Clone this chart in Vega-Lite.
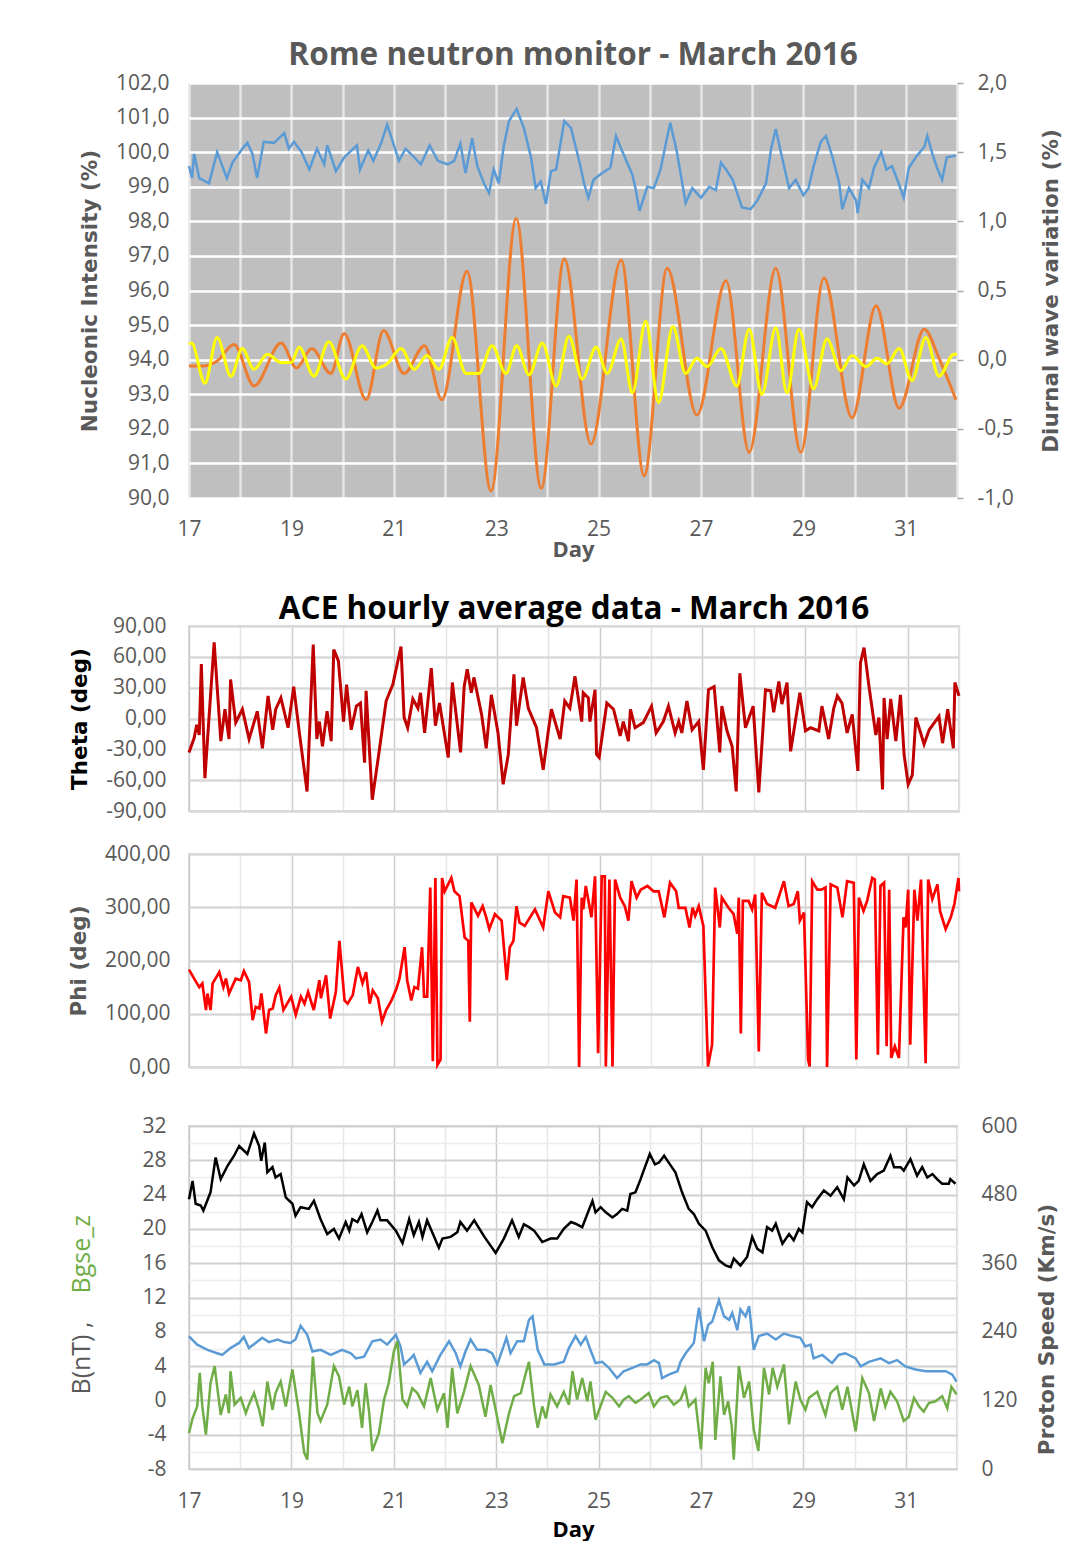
{
"$schema": "https://vega.github.io/schema/vega-lite/v6.json",
"padding": {"left": 66, "top": 39, "right": 0, "bottom": 0},
"background": "#ffffff",
"spacing": 20,
"config": {
  "view": {"stroke": null},
  "font": "Open Sans",
  "axis": {"labelFont": "Open Sans", "labelFontSize": 21, "labelColor": "#595959", "titleFont": "DejaVu Sans", "titleFontSize": 21.5, "titleFontWeight": "bold", "titleColor": "#595959", "domain": false, "ticks": false, "labelFlush": false},
  "title": {"font": "Open Sans", "fontWeight": "bold", "fontSize": 31.5, "anchor": "middle"}
},
"datasets": {
"nm": [{"d":17.0,"v":99.6},{"d":17.06,"v":99.25},{"d":17.1,"v":99.95},{"d":17.2,"v":99.25},{"d":17.39,"v":99.1},{"d":17.55,"v":100.0},{"d":17.74,"v":99.25},{"d":17.85,"v":99.7},{"d":18.04,"v":100.1},{"d":18.14,"v":100.27},{"d":18.24,"v":99.95},{"d":18.33,"v":99.25},{"d":18.46,"v":100.3},{"d":18.66,"v":100.27},{"d":18.86,"v":100.55},{"d":18.95,"v":100.1},{"d":19.05,"v":100.3},{"d":19.2,"v":100.0},{"d":19.35,"v":99.5},{"d":19.5,"v":100.1},{"d":19.64,"v":99.65},{"d":19.7,"v":100.2},{"d":19.87,"v":99.45},{"d":20.03,"v":99.85},{"d":20.28,"v":100.2},{"d":20.34,"v":99.5},{"d":20.5,"v":100.05},{"d":20.6,"v":99.75},{"d":20.75,"v":100.25},{"d":20.87,"v":100.8},{"d":20.97,"v":100.35},{"d":21.1,"v":99.75},{"d":21.23,"v":100.1},{"d":21.4,"v":99.85},{"d":21.53,"v":99.65},{"d":21.7,"v":100.2},{"d":21.86,"v":99.75},{"d":22.05,"v":99.65},{"d":22.18,"v":99.75},{"d":22.3,"v":100.25},{"d":22.4,"v":99.4},{"d":22.53,"v":100.4},{"d":22.63,"v":99.6},{"d":22.76,"v":99.1},{"d":22.86,"v":98.82},{"d":22.95,"v":99.5},{"d":23.05,"v":99.1},{"d":23.15,"v":100.2},{"d":23.25,"v":100.9},{"d":23.4,"v":101.25},{"d":23.54,"v":100.7},{"d":23.68,"v":99.85},{"d":23.77,"v":98.96},{"d":23.87,"v":99.15},{"d":23.97,"v":98.5},{"d":24.07,"v":99.45},{"d":24.17,"v":99.5},{"d":24.33,"v":100.9},{"d":24.46,"v":100.7},{"d":24.62,"v":99.75},{"d":24.72,"v":99.08},{"d":24.8,"v":98.68},{"d":24.9,"v":99.2},{"d":25.07,"v":99.4},{"d":25.23,"v":99.55},{"d":25.34,"v":100.47},{"d":25.47,"v":100.0},{"d":25.66,"v":99.35},{"d":25.72,"v":98.96},{"d":25.8,"v":98.3},{"d":25.95,"v":99.0},{"d":26.08,"v":98.96},{"d":26.21,"v":99.5},{"d":26.32,"v":100.3},{"d":26.4,"v":100.85},{"d":26.53,"v":100.0},{"d":26.7,"v":98.53},{"d":26.83,"v":98.96},{"d":27.0,"v":98.68},{"d":27.16,"v":99.0},{"d":27.29,"v":98.9},{"d":27.39,"v":99.7},{"d":27.49,"v":99.5},{"d":27.62,"v":99.2},{"d":27.8,"v":98.4},{"d":27.97,"v":98.35},{"d":28.1,"v":98.6},{"d":28.27,"v":99.1},{"d":28.37,"v":100.1},{"d":28.46,"v":100.67},{"d":28.56,"v":100.0},{"d":28.72,"v":98.96},{"d":28.85,"v":99.2},{"d":29.0,"v":98.75},{"d":29.1,"v":98.96},{"d":29.2,"v":99.6},{"d":29.34,"v":100.3},{"d":29.44,"v":100.47},{"d":29.57,"v":99.85},{"d":29.7,"v":99.1},{"d":29.76,"v":98.35},{"d":29.89,"v":98.96},{"d":30.03,"v":98.6},{"d":30.06,"v":98.24},{"d":30.15,"v":99.2},{"d":30.28,"v":98.96},{"d":30.38,"v":99.55},{"d":30.52,"v":100.0},{"d":30.62,"v":99.5},{"d":30.73,"v":99.6},{"d":30.86,"v":99.1},{"d":30.96,"v":98.68},{"d":31.06,"v":99.55},{"d":31.22,"v":99.9},{"d":31.36,"v":100.15},{"d":31.42,"v":100.47},{"d":31.52,"v":99.95},{"d":31.61,"v":99.55},{"d":31.71,"v":99.2},{"d":31.8,"v":99.85},{"d":31.98,"v":99.9}],
"dw": [{"d":17.0,"v":-0.045},{"d":17.3,"v":-0.045},{"d":17.55,"v":-0.01},{"d":17.88,"v":0.11},{"d":18.27,"v":-0.19},{"d":18.8,"v":0.12},{"d":19.1,"v":-0.06},{"d":19.4,"v":0.08},{"d":19.77,"v":-0.1},{"d":20.03,"v":0.19},{"d":20.46,"v":-0.29},{"d":20.8,"v":0.21},{"d":21.2,"v":-0.1},{"d":21.6,"v":0.1},{"d":21.94,"v":-0.29},{"d":22.43,"v":0.64},{"d":22.9,"v":-0.95},{"d":23.39,"v":1.02},{"d":23.88,"v":-0.93},{"d":24.33,"v":0.73},{"d":24.85,"v":-0.61},{"d":25.44,"v":0.72},{"d":25.89,"v":-0.84},{"d":26.34,"v":0.66},{"d":26.92,"v":-0.4},{"d":27.49,"v":0.57},{"d":27.94,"v":-0.67},{"d":28.46,"v":0.66},{"d":28.95,"v":-0.67},{"d":29.4,"v":0.59},{"d":29.95,"v":-0.42},{"d":30.42,"v":0.39},{"d":30.87,"v":-0.35},{"d":31.36,"v":0.22},{"d":31.65,"v":0.01},{"d":31.98,"v":-0.29}],
"sd": [{"d":17.0,"v":0.11},{"d":17.05,"v":0.12},{"d":17.31,"v":-0.17},{"d":17.55,"v":0.16},{"d":17.82,"v":-0.12},{"d":18.04,"v":0.08},{"d":18.27,"v":-0.07},{"d":18.53,"v":0.04},{"d":18.8,"v":-0.02},{"d":19.0,"v":-0.02},{"d":19.15,"v":0.09},{"d":19.44,"v":-0.12},{"d":19.73,"v":0.13},{"d":20.06,"v":-0.14},{"d":20.38,"v":0.1},{"d":20.65,"v":-0.06},{"d":20.87,"v":-0.03},{"d":21.14,"v":0.08},{"d":21.4,"v":-0.07},{"d":21.65,"v":0.03},{"d":21.88,"v":-0.07},{"d":22.14,"v":0.16},{"d":22.41,"v":-0.1},{"d":22.66,"v":-0.1},{"d":22.92,"v":0.1},{"d":23.19,"v":-0.1},{"d":23.4,"v":0.1},{"d":23.64,"v":-0.11},{"d":23.9,"v":0.12},{"d":24.17,"v":-0.19},{"d":24.42,"v":0.17},{"d":24.68,"v":-0.14},{"d":24.95,"v":0.09},{"d":25.17,"v":-0.1},{"d":25.44,"v":0.15},{"d":25.66,"v":-0.24},{"d":25.92,"v":0.28},{"d":26.17,"v":-0.31},{"d":26.45,"v":0.24},{"d":26.7,"v":-0.1},{"d":26.92,"v":0.01},{"d":27.12,"v":-0.05},{"d":27.39,"v":0.08},{"d":27.7,"v":-0.19},{"d":27.94,"v":0.22},{"d":28.19,"v":-0.25},{"d":28.46,"v":0.23},{"d":28.68,"v":-0.24},{"d":28.91,"v":0.22},{"d":29.2,"v":-0.21},{"d":29.46,"v":0.15},{"d":29.73,"v":-0.08},{"d":29.95,"v":0.03},{"d":30.22,"v":-0.05},{"d":30.44,"v":0.01},{"d":30.63,"v":-0.03},{"d":30.87,"v":0.08},{"d":31.12,"v":-0.15},{"d":31.39,"v":0.16},{"d":31.65,"v":-0.12},{"d":31.94,"v":0.04},{"d":32.0,"v":0.04}],
"th": [{"d":17.0,"v":-33},{"d":17.1,"v":-19},{"d":17.15,"v":-6},{"d":17.2,"v":-16},{"d":17.24,"v":53},{"d":17.31,"v":-58},{"d":17.49,"v":74},{"d":17.62,"v":-22},{"d":17.7,"v":9},{"d":17.78,"v":-20},{"d":17.81,"v":38},{"d":17.91,"v":-4},{"d":18.04,"v":9},{"d":18.17,"v":-20},{"d":18.33,"v":7},{"d":18.43,"v":-29},{"d":18.54,"v":22},{"d":18.63,"v":-11},{"d":18.69,"v":9},{"d":18.79,"v":20},{"d":18.93,"v":-9},{"d":19.04,"v":31},{"d":19.15,"v":-14},{"d":19.3,"v":-71},{"d":19.42,"v":72},{"d":19.49,"v":-20},{"d":19.54,"v":-3},{"d":19.6,"v":-27},{"d":19.69,"v":7},{"d":19.77,"v":-22},{"d":19.82,"v":67},{"d":19.91,"v":56},{"d":20.01,"v":-3},{"d":20.07,"v":33},{"d":20.16,"v":-11},{"d":20.26,"v":12},{"d":20.34,"v":15},{"d":20.42,"v":-43},{"d":20.45,"v":27},{"d":20.57,"v":-79},{"d":20.69,"v":-37},{"d":20.84,"v":17},{"d":20.97,"v":33},{"d":21.13,"v":70},{"d":21.19,"v":1},{"d":21.26,"v":-9},{"d":21.36,"v":19},{"d":21.46,"v":10},{"d":21.51,"v":25},{"d":21.59,"v":-14},{"d":21.72,"v":49},{"d":21.8,"v":-7},{"d":21.88,"v":15},{"d":22.05,"v":-38},{"d":22.13,"v":35},{"d":22.29,"v":-33},{"d":22.36,"v":31},{"d":22.42,"v":48},{"d":22.5,"v":25},{"d":22.55,"v":40},{"d":22.7,"v":4},{"d":22.79,"v":-29},{"d":22.89,"v":23},{"d":23.02,"v":-14},{"d":23.12,"v":-64},{"d":23.22,"v":-35},{"d":23.33,"v":43},{"d":23.38,"v":-7},{"d":23.51,"v":40},{"d":23.61,"v":10},{"d":23.77,"v":-9},{"d":23.9,"v":-50},{"d":24.0,"v":-12},{"d":24.06,"v":9},{"d":24.23,"v":-20},{"d":24.32,"v":17},{"d":24.42,"v":10},{"d":24.52,"v":41},{"d":24.65,"v":-3},{"d":24.68,"v":25},{"d":24.78,"v":20},{"d":24.81,"v":-3},{"d":24.91,"v":28},{"d":24.94,"v":-35},{"d":24.99,"v":-38},{"d":25.14,"v":15},{"d":25.27,"v":9},{"d":25.4,"v":-17},{"d":25.46,"v":-3},{"d":25.56,"v":-22},{"d":25.6,"v":9},{"d":25.69,"v":-9},{"d":25.85,"v":-4},{"d":26.01,"v":12},{"d":26.1,"v":-14},{"d":26.24,"v":-3},{"d":26.34,"v":12},{"d":26.47,"v":-14},{"d":26.54,"v":-3},{"d":26.6,"v":-14},{"d":26.7,"v":17},{"d":26.8,"v":-11},{"d":26.93,"v":-3},{"d":27.02,"v":-50},{"d":27.12,"v":28},{"d":27.23,"v":31},{"d":27.34,"v":-33},{"d":27.38,"v":12},{"d":27.48,"v":-12},{"d":27.58,"v":-27},{"d":27.66,"v":-71},{"d":27.73,"v":44},{"d":27.84,"v":-9},{"d":27.99,"v":12},{"d":28.1,"v":-72},{"d":28.23,"v":28},{"d":28.33,"v":27},{"d":28.39,"v":6},{"d":28.49,"v":36},{"d":28.55,"v":14},{"d":28.65,"v":35},{"d":28.72,"v":-32},{"d":28.9,"v":25},{"d":29.01,"v":-12},{"d":29.11,"v":-9},{"d":29.27,"v":-12},{"d":29.33,"v":12},{"d":29.46,"v":-20},{"d":29.56,"v":10},{"d":29.63,"v":22},{"d":29.72,"v":15},{"d":29.82,"v":-14},{"d":29.92,"v":4},{"d":30.03,"v":-51},{"d":30.08,"v":54},{"d":30.15,"v":69},{"d":30.25,"v":30},{"d":30.38,"v":-16},{"d":30.44,"v":1},{"d":30.51,"v":-69},{"d":30.54,"v":20},{"d":30.6,"v":-20},{"d":30.67,"v":19},{"d":30.77,"v":-22},{"d":30.86,"v":23},{"d":30.93,"v":-35},{"d":31.01,"v":-64},{"d":31.09,"v":-55},{"d":31.16,"v":1},{"d":31.32,"v":-25},{"d":31.42,"v":-11},{"d":31.61,"v":2},{"d":31.68,"v":-24},{"d":31.78,"v":9},{"d":31.89,"v":-29},{"d":31.92,"v":35},{"d":32.0,"v":22}],
"ph": [{"d":17.0,"v":183},{"d":17.1,"v":166},{"d":17.2,"v":150},{"d":17.26,"v":157},{"d":17.33,"v":107},{"d":17.36,"v":138},{"d":17.42,"v":107},{"d":17.46,"v":157},{"d":17.59,"v":178},{"d":17.67,"v":150},{"d":17.72,"v":166},{"d":17.78,"v":138},{"d":17.91,"v":166},{"d":18.01,"v":163},{"d":18.07,"v":180},{"d":18.17,"v":160},{"d":18.24,"v":88},{"d":18.3,"v":113},{"d":18.37,"v":110},{"d":18.41,"v":138},{"d":18.5,"v":63},{"d":18.56,"v":107},{"d":18.63,"v":110},{"d":18.69,"v":135},{"d":18.76,"v":149},{"d":18.84,"v":107},{"d":18.99,"v":132},{"d":19.08,"v":98},{"d":19.18,"v":132},{"d":19.25,"v":119},{"d":19.32,"v":141},{"d":19.43,"v":107},{"d":19.54,"v":163},{"d":19.57,"v":129},{"d":19.67,"v":172},{"d":19.75,"v":91},{"d":19.86,"v":141},{"d":19.93,"v":237},{"d":20.03,"v":125},{"d":20.09,"v":119},{"d":20.19,"v":135},{"d":20.29,"v":188},{"d":20.38,"v":157},{"d":20.45,"v":178},{"d":20.52,"v":119},{"d":20.58,"v":144},{"d":20.68,"v":129},{"d":20.76,"v":85},{"d":20.84,"v":107},{"d":20.94,"v":124},{"d":21.04,"v":147},{"d":21.1,"v":166},{"d":21.2,"v":225},{"d":21.25,"v":163},{"d":21.33,"v":125},{"d":21.39,"v":150},{"d":21.46,"v":147},{"d":21.54,"v":225},{"d":21.58,"v":132},{"d":21.64,"v":132},{"d":21.7,"v":337},{"d":21.75,"v":11},{"d":21.8,"v":355},{"d":21.84,"v":4},{"d":21.9,"v":14},{"d":21.93,"v":355},{"d":21.98,"v":330},{"d":22.11,"v":355},{"d":22.17,"v":330},{"d":22.27,"v":321},{"d":22.37,"v":243},{"d":22.44,"v":237},{"d":22.47,"v":85},{"d":22.5,"v":309},{"d":22.63,"v":284},{"d":22.72,"v":302},{"d":22.79,"v":281},{"d":22.85,"v":259},{"d":22.96,"v":287},{"d":23.09,"v":275},{"d":23.19,"v":163},{"d":23.25,"v":225},{"d":23.32,"v":237},{"d":23.38,"v":302},{"d":23.44,"v":271},{"d":23.54,"v":265},{"d":23.74,"v":296},{"d":23.9,"v":262},{"d":24.0,"v":330},{"d":24.13,"v":290},{"d":24.23,"v":281},{"d":24.29,"v":321},{"d":24.42,"v":318},{"d":24.49,"v":275},{"d":24.55,"v":352},{"d":24.6,"v":0},{"d":24.65,"v":318},{"d":24.68,"v":296},{"d":24.73,"v":340},{"d":24.84,"v":281},{"d":24.91,"v":358},{"d":24.97,"v":26},{"d":25.04,"v":358},{"d":25.1,"v":358},{"d":25.12,"v":1},{"d":25.19,"v":352},{"d":25.25,"v":1},{"d":25.3,"v":352},{"d":25.4,"v":318},{"d":25.49,"v":302},{"d":25.56,"v":275},{"d":25.62,"v":349},{"d":25.72,"v":318},{"d":25.8,"v":333},{"d":25.93,"v":340},{"d":26.05,"v":330},{"d":26.15,"v":330},{"d":26.26,"v":281},{"d":26.37,"v":346},{"d":26.49,"v":330},{"d":26.54,"v":299},{"d":26.67,"v":299},{"d":26.75,"v":262},{"d":26.81,"v":299},{"d":26.86,"v":284},{"d":26.93,"v":302},{"d":27.02,"v":265},{"d":27.11,"v":1},{"d":27.19,"v":42},{"d":27.25,"v":337},{"d":27.34,"v":262},{"d":27.38,"v":318},{"d":27.51,"v":299},{"d":27.61,"v":287},{"d":27.68,"v":250},{"d":27.71,"v":318},{"d":27.75,"v":63},{"d":27.79,"v":312},{"d":27.9,"v":312},{"d":27.97,"v":296},{"d":28.03,"v":324},{"d":28.1,"v":29},{"d":28.16,"v":327},{"d":28.26,"v":306},{"d":28.42,"v":299},{"d":28.59,"v":349},{"d":28.68,"v":302},{"d":28.78,"v":306},{"d":28.86,"v":330},{"d":28.9,"v":275},{"d":28.98,"v":290},{"d":29.06,"v":14},{"d":29.09,"v":1},{"d":29.14,"v":349},{"d":29.24,"v":333},{"d":29.32,"v":333},{"d":29.4,"v":337},{"d":29.43,"v":0},{"d":29.5,"v":343},{"d":29.63,"v":337},{"d":29.73,"v":281},{"d":29.82,"v":349},{"d":29.95,"v":346},{"d":30.0,"v":14},{"d":30.05,"v":318},{"d":30.14,"v":293},{"d":30.21,"v":312},{"d":30.31,"v":355},{"d":30.36,"v":352},{"d":30.42,"v":23},{"d":30.47,"v":340},{"d":30.54,"v":346},{"d":30.59,"v":39},{"d":30.64,"v":333},{"d":30.68,"v":17},{"d":30.75,"v":39},{"d":30.83,"v":17},{"d":30.92,"v":281},{"d":30.96,"v":262},{"d":31.01,"v":333},{"d":31.05,"v":42},{"d":31.13,"v":333},{"d":31.19,"v":275},{"d":31.26,"v":352},{"d":31.35,"v":7},{"d":31.4,"v":352},{"d":31.48,"v":315},{"d":31.58,"v":343},{"d":31.63,"v":293},{"d":31.74,"v":259},{"d":31.84,"v":281},{"d":31.91,"v":306},{"d":31.99,"v":355},{"d":32.0,"v":330}],
"bm": [{"d":17.0,"v":7.46},{"d":17.16,"v":6.5},{"d":17.36,"v":5.9},{"d":17.55,"v":5.5},{"d":17.65,"v":5.3},{"d":17.81,"v":6.1},{"d":17.98,"v":6.7},{"d":18.07,"v":7.4},{"d":18.17,"v":6.1},{"d":18.3,"v":6.7},{"d":18.43,"v":7.3},{"d":18.56,"v":6.8},{"d":18.73,"v":7.1},{"d":18.86,"v":6.8},{"d":18.98,"v":6.7},{"d":19.08,"v":7.1},{"d":19.18,"v":8.7},{"d":19.31,"v":7.65},{"d":19.41,"v":5.7},{"d":19.57,"v":5.9},{"d":19.77,"v":5.3},{"d":19.99,"v":5.9},{"d":20.16,"v":5.5},{"d":20.26,"v":4.9},{"d":20.42,"v":5.1},{"d":20.58,"v":6.9},{"d":20.74,"v":7.1},{"d":20.87,"v":6.5},{"d":21.04,"v":7.65},{"d":21.13,"v":6.3},{"d":21.2,"v":4.2},{"d":21.33,"v":4.9},{"d":21.39,"v":5.3},{"d":21.52,"v":3.2},{"d":21.65,"v":4.5},{"d":21.75,"v":3.4},{"d":21.91,"v":5.3},{"d":22.08,"v":6.9},{"d":22.21,"v":5.5},{"d":22.3,"v":3.96},{"d":22.4,"v":5.7},{"d":22.5,"v":7.1},{"d":22.63,"v":5.9},{"d":22.79,"v":5.9},{"d":22.92,"v":5.5},{"d":23.02,"v":4.2},{"d":23.12,"v":5.9},{"d":23.2,"v":7.3},{"d":23.28,"v":5.5},{"d":23.41,"v":6.9},{"d":23.54,"v":6.9},{"d":23.64,"v":9.4},{"d":23.71,"v":9.8},{"d":23.81,"v":5.9},{"d":23.94,"v":4.2},{"d":24.13,"v":4.2},{"d":24.32,"v":4.5},{"d":24.42,"v":6.1},{"d":24.55,"v":7.5},{"d":24.65,"v":6.5},{"d":24.75,"v":7.4},{"d":24.84,"v":5.9},{"d":24.94,"v":4.35},{"d":25.07,"v":4.5},{"d":25.2,"v":3.8},{"d":25.36,"v":2.6},{"d":25.49,"v":3.4},{"d":25.66,"v":3.8},{"d":25.82,"v":4.2},{"d":25.95,"v":4.2},{"d":26.08,"v":4.7},{"d":26.18,"v":4.35},{"d":26.24,"v":2.6},{"d":26.37,"v":3.0},{"d":26.54,"v":3.4},{"d":26.6,"v":4.5},{"d":26.7,"v":5.5},{"d":26.86,"v":6.7},{"d":26.96,"v":10.8},{"d":27.06,"v":6.9},{"d":27.14,"v":8.8},{"d":27.22,"v":9.2},{"d":27.35,"v":11.7},{"d":27.45,"v":9.8},{"d":27.55,"v":9.4},{"d":27.61,"v":10.2},{"d":27.71,"v":8.2},{"d":27.77,"v":10.6},{"d":27.87,"v":9.8},{"d":27.94,"v":11.0},{"d":28.03,"v":5.9},{"d":28.13,"v":7.5},{"d":28.29,"v":7.8},{"d":28.46,"v":7.1},{"d":28.62,"v":7.8},{"d":28.78,"v":7.5},{"d":28.94,"v":7.3},{"d":29.04,"v":6.3},{"d":29.14,"v":6.5},{"d":29.2,"v":4.9},{"d":29.37,"v":5.3},{"d":29.56,"v":4.35},{"d":29.69,"v":5.3},{"d":29.82,"v":5.5},{"d":30.02,"v":4.9},{"d":30.12,"v":3.96},{"d":30.28,"v":4.5},{"d":30.51,"v":4.9},{"d":30.67,"v":4.35},{"d":30.83,"v":4.7},{"d":30.99,"v":3.96},{"d":31.19,"v":3.6},{"d":31.39,"v":3.4},{"d":31.58,"v":3.4},{"d":31.78,"v":3.4},{"d":31.91,"v":3.0},{"d":31.99,"v":2.2}],
"bz": [{"d":17.0,"v":-3.8},{"d":17.07,"v":-2.1},{"d":17.16,"v":-0.7},{"d":17.21,"v":3.2},{"d":17.26,"v":-0.7},{"d":17.33,"v":-4.0},{"d":17.42,"v":2.0},{"d":17.5,"v":4.0},{"d":17.62,"v":-1.7},{"d":17.72,"v":0.7},{"d":17.78,"v":-1.5},{"d":17.81,"v":3.4},{"d":17.89,"v":-0.5},{"d":18.01,"v":0.3},{"d":18.11,"v":-1.5},{"d":18.17,"v":-0.5},{"d":18.27,"v":0.85},{"d":18.37,"v":-1.1},{"d":18.44,"v":-3.0},{"d":18.53,"v":2.2},{"d":18.63,"v":-1.1},{"d":18.69,"v":0.85},{"d":18.79,"v":2.2},{"d":18.89,"v":-0.7},{"d":19.02,"v":3.6},{"d":19.15,"v":-1.5},{"d":19.25,"v":-6.1},{"d":19.31,"v":-6.9},{"d":19.42,"v":5.1},{"d":19.51,"v":-1.5},{"d":19.57,"v":-2.4},{"d":19.7,"v":-0.5},{"d":19.83,"v":4.0},{"d":19.93,"v":2.8},{"d":20.03,"v":-0.5},{"d":20.13,"v":1.6},{"d":20.19,"v":-0.7},{"d":20.29,"v":1.2},{"d":20.38,"v":-3.2},{"d":20.45,"v":2.0},{"d":20.52,"v":-1.5},{"d":20.58,"v":-5.9},{"d":20.71,"v":-3.8},{"d":20.81,"v":0.1},{"d":20.9,"v":2.0},{"d":21.0,"v":5.7},{"d":21.07,"v":6.9},{"d":21.17,"v":0.1},{"d":21.26,"v":-0.7},{"d":21.36,"v":1.4},{"d":21.46,"v":0.85},{"d":21.59,"v":-0.7},{"d":21.72,"v":2.6},{"d":21.85,"v":-1.1},{"d":21.98,"v":0.85},{"d":22.05,"v":-3.2},{"d":22.14,"v":3.8},{"d":22.24,"v":-1.5},{"d":22.37,"v":1.0},{"d":22.5,"v":4.0},{"d":22.66,"v":1.8},{"d":22.79,"v":-1.9},{"d":22.89,"v":1.8},{"d":22.99,"v":-1.1},{"d":23.12,"v":-5.0},{"d":23.25,"v":-1.5},{"d":23.35,"v":0.5},{"d":23.48,"v":0.85},{"d":23.57,"v":3.0},{"d":23.64,"v":4.5},{"d":23.74,"v":-0.7},{"d":23.81,"v":-3.2},{"d":23.9,"v":-0.7},{"d":23.97,"v":-2.1},{"d":24.06,"v":0.7},{"d":24.19,"v":-0.7},{"d":24.32,"v":1.0},{"d":24.42,"v":-0.5},{"d":24.49,"v":3.4},{"d":24.58,"v":0.1},{"d":24.68,"v":2.6},{"d":24.78,"v":-0.1},{"d":24.84,"v":2.2},{"d":24.94,"v":-2.25},{"d":25.14,"v":1.0},{"d":25.27,"v":0.3},{"d":25.4,"v":-0.7},{"d":25.49,"v":0.1},{"d":25.59,"v":0.5},{"d":25.72,"v":-0.3},{"d":25.82,"v":0.1},{"d":25.98,"v":0.85},{"d":26.08,"v":-0.7},{"d":26.21,"v":0.3},{"d":26.34,"v":0.5},{"d":26.47,"v":-0.5},{"d":26.6,"v":0.1},{"d":26.69,"v":1.4},{"d":26.76,"v":-0.7},{"d":26.89,"v":0.1},{"d":27.0,"v":-5.7},{"d":27.09,"v":3.8},{"d":27.15,"v":2.0},{"d":27.23,"v":4.5},{"d":27.28,"v":-4.6},{"d":27.38,"v":2.8},{"d":27.45,"v":-1.7},{"d":27.53,"v":-0.1},{"d":27.6,"v":-3.0},{"d":27.64,"v":-6.9},{"d":27.74,"v":4.0},{"d":27.84,"v":0.3},{"d":27.94,"v":2.2},{"d":28.03,"v":-3.4},{"d":28.12,"v":-5.9},{"d":28.23,"v":3.8},{"d":28.33,"v":0.7},{"d":28.4,"v":3.8},{"d":28.49,"v":1.6},{"d":28.62,"v":4.2},{"d":28.72,"v":-2.8},{"d":28.85,"v":2.2},{"d":28.94,"v":0.1},{"d":29.04,"v":-1.1},{"d":29.11,"v":0.3},{"d":29.27,"v":1.0},{"d":29.43,"v":-1.7},{"d":29.53,"v":0.85},{"d":29.66,"v":1.6},{"d":29.76,"v":-1.1},{"d":29.86,"v":1.6},{"d":30.02,"v":-3.6},{"d":30.15,"v":2.6},{"d":30.28,"v":0.85},{"d":30.38,"v":-2.4},{"d":30.51,"v":1.4},{"d":30.6,"v":-0.7},{"d":30.7,"v":1.0},{"d":30.83,"v":-0.1},{"d":30.96,"v":-2.4},{"d":31.06,"v":-1.9},{"d":31.16,"v":0.3},{"d":31.26,"v":-0.7},{"d":31.35,"v":-1.3},{"d":31.45,"v":-0.3},{"d":31.58,"v":-0.1},{"d":31.71,"v":0.5},{"d":31.81,"v":-0.9},{"d":31.89,"v":1.6},{"d":31.99,"v":0.7}],
"vp": [{"d":17.0,"v":472},{"d":17.07,"v":504},{"d":17.13,"v":464},{"d":17.23,"v":461},{"d":17.28,"v":452},{"d":17.42,"v":484},{"d":17.52,"v":545},{"d":17.62,"v":507},{"d":17.75,"v":530},{"d":17.88,"v":548},{"d":17.98,"v":565},{"d":18.14,"v":551},{"d":18.27,"v":587},{"d":18.37,"v":565},{"d":18.41,"v":539},{"d":18.48,"v":571},{"d":18.53,"v":519},{"d":18.63,"v":528},{"d":18.69,"v":510},{"d":18.79,"v":516},{"d":18.89,"v":475},{"d":19.02,"v":464},{"d":19.08,"v":443},{"d":19.18,"v":458},{"d":19.34,"v":455},{"d":19.44,"v":469},{"d":19.57,"v":437},{"d":19.7,"v":411},{"d":19.83,"v":420},{"d":19.93,"v":403},{"d":20.06,"v":432},{"d":20.13,"v":417},{"d":20.19,"v":437},{"d":20.29,"v":432},{"d":20.37,"v":446},{"d":20.48,"v":414},{"d":20.58,"v":432},{"d":20.68,"v":452},{"d":20.74,"v":435},{"d":20.87,"v":435},{"d":21.04,"v":417},{"d":21.17,"v":395},{"d":21.3,"v":437},{"d":21.39,"v":409},{"d":21.49,"v":432},{"d":21.56,"v":406},{"d":21.65,"v":435},{"d":21.75,"v":414},{"d":21.88,"v":387},{"d":21.95,"v":403},{"d":22.11,"v":406},{"d":22.24,"v":414},{"d":22.3,"v":432},{"d":22.43,"v":417},{"d":22.57,"v":435},{"d":22.77,"v":406},{"d":22.99,"v":378},{"d":23.15,"v":403},{"d":23.31,"v":435},{"d":23.44,"v":406},{"d":23.54,"v":428},{"d":23.64,"v":423},{"d":23.74,"v":417},{"d":23.9,"v":397},{"d":24.06,"v":403},{"d":24.19,"v":403},{"d":24.32,"v":420},{"d":24.46,"v":432},{"d":24.55,"v":429},{"d":24.68,"v":423},{"d":24.78,"v":446},{"d":24.88,"v":469},{"d":24.94,"v":449},{"d":25.04,"v":458},{"d":25.14,"v":449},{"d":25.27,"v":440},{"d":25.36,"v":446},{"d":25.46,"v":455},{"d":25.56,"v":452},{"d":25.62,"v":481},{"d":25.72,"v":484},{"d":25.82,"v":507},{"d":25.88,"v":522},{"d":26.0,"v":551},{"d":26.1,"v":533},{"d":26.18,"v":536},{"d":26.28,"v":548},{"d":26.37,"v":536},{"d":26.5,"v":519},{"d":26.63,"v":484},{"d":26.76,"v":455},{"d":26.86,"v":446},{"d":26.96,"v":429},{"d":27.09,"v":417},{"d":27.22,"v":388},{"d":27.35,"v":365},{"d":27.48,"v":356},{"d":27.58,"v":353},{"d":27.64,"v":368},{"d":27.77,"v":356},{"d":27.9,"v":371},{"d":28.0,"v":406},{"d":28.1,"v":385},{"d":28.2,"v":379},{"d":28.29,"v":423},{"d":28.39,"v":417},{"d":28.46,"v":429},{"d":28.59,"v":394},{"d":28.72,"v":411},{"d":28.81,"v":400},{"d":28.91,"v":420},{"d":28.98,"v":414},{"d":29.07,"v":467},{"d":29.17,"v":458},{"d":29.27,"v":472},{"d":29.4,"v":487},{"d":29.53,"v":478},{"d":29.66,"v":493},{"d":29.79,"v":472},{"d":29.86,"v":510},{"d":29.99,"v":496},{"d":30.08,"v":504},{"d":30.18,"v":533},{"d":30.31,"v":504},{"d":30.44,"v":516},{"d":30.57,"v":522},{"d":30.7,"v":548},{"d":30.77,"v":528},{"d":30.9,"v":528},{"d":30.96,"v":522},{"d":31.09,"v":542},{"d":31.22,"v":513},{"d":31.32,"v":528},{"d":31.42,"v":510},{"d":31.52,"v":516},{"d":31.61,"v":507},{"d":31.71,"v":499},{"d":31.84,"v":499},{"d":31.87,"v":507},{"d":31.97,"v":499}]
},
"vconcat": [
{
  "width": 768, "height": 415,
  "title": {"text": "Rome neutron monitor - March 2016", "color": "#595959", "offset": 1},
  "view": {"fill": "#bfbfbf", "stroke": null},
  "layer": [
    {"data": {"name": "nm"}, "mark": {"type": "line", "color": "#5b9bd5", "strokeWidth": 2.5},
     "encoding": {
       "x": {"field": "d", "type": "quantitative", "scale": {"domain": [17, 32], "nice": false},
             "axis": {"values": [17,18,19,20,21,22,23,24,25,26,27,28,29,30,31,32], "labelExpr": "datum.value % 2 == 1 ? datum.label : ''", "labelFlush": false, "grid": true, "gridColor": "#e6e6e6", "gridWidth": 2.5, "labelPadding": 20, "title": ["Day", " "], "titleLineHeight": 12, "titleFont": "Open Sans", "titleFontSize": 22, "titlePadding": 0}},
       "y": {"field": "v", "type": "quantitative", "scale": {"domain": [90, 102], "nice": false, "zero": false},
             "axis": {"values": [90,91,92,93,94,95,96,97,98,99,100,101,102], "labelExpr": "replace(format(datum.value, '.1f'), '.', ',')", "grid": true, "gridColor": "#ffffff", "gridWidth": 2.5, "labelPadding": 20, "title": "Nucleonic Intensity (%)", "titleX": -88, "titleBaseline": "bottom"}}
     }},
    {"data": {"name": "dw"}, "mark": {"type": "line", "color": "#ed7d31", "strokeWidth": 3, "interpolate": "monotone"},
     "encoding": {
       "x": {"field": "d", "type": "quantitative"},
       "y": {"field": "v", "type": "quantitative", "scale": {"domain": [-1, 2], "nice": false, "zero": false},
             "axis": {"orient": "right", "values": [-1,-0.5,0,0.5,1,1.5,2], "labelExpr": "(datum.value < 0 ? '-' : '') + replace(format(abs(datum.value), '.1f'), '.', ',')", "grid": false, "ticks": true, "tickColor": "#a6a6a6", "tickSize": 6, "tickWidth": 1.5, "labelPadding": 14, "title": "Diurnal wave variation (%)", "titleAngle": 270, "titleX": 105, "titleBaseline": "bottom"}}
     }},
    {"data": {"name": "sd"}, "mark": {"type": "line", "color": "#ffff00", "strokeWidth": 3, "interpolate": "monotone"},
     "encoding": {
       "x": {"field": "d", "type": "quantitative"},
       "y": {"field": "v", "type": "quantitative", "scale": {"domain": [-1, 2], "nice": false, "zero": false}, "axis": null}
     }}
  ],
  "resolve": {"scale": {"y": "independent"}}
},
{
  "width": 770, "height": 185,
  "title": {"text": "ACE hourly average data - March  2016", "color": "#000000", "offset": -10},
  "view": {"stroke": "#d9d9d9", "strokeWidth": 2},
  "data": {"name": "th"},
  "mark": {"type": "line", "color": "#c00000", "strokeWidth": 3},
  "encoding": {
    "x": {"field": "d", "type": "quantitative", "scale": {"domain": [17, 32], "nice": false},
          "axis": {"values": [17,18,19,20,21,22,23,24,25,26,27,28,29,30,31,32], "labels": false, "title": null, "grid": true, "gridColor": {"condition": {"test": "datum.value % 2 == 1", "value": "#cccccc"}, "value": "#e3e3e3"}, "gridWidth": 1.5}},
    "y": {"field": "v", "type": "quantitative", "scale": {"domain": [-90, 90], "nice": false},
          "axis": {"values": [-90,-60,-30,0,30,60,90], "labelExpr": "(datum.value < 0 ? '-' : '') + replace(format(abs(datum.value), '.2f'), '.', ',')", "grid": true, "gridColor": "#d9d9d9", "gridWidth": 2.5, "labelPadding": 23, "title": "Theta (deg)", "titleColor": "#000000", "titleX": -98, "titleBaseline": "bottom"}}
  }
},
{
  "width": 770, "height": 213,
  "view": {"stroke": "#d9d9d9", "strokeWidth": 2},
  "data": {"name": "ph"},
  "mark": {"type": "line", "color": "#ff0000", "strokeWidth": 2.7},
  "encoding": {
    "x": {"field": "d", "type": "quantitative", "scale": {"domain": [17, 32], "nice": false},
          "axis": {"values": [17,18,19,20,21,22,23,24,25,26,27,28,29,30,31,32], "labels": false, "title": null, "grid": true, "gridColor": {"condition": {"test": "datum.value % 2 == 1", "value": "#cccccc"}, "value": "#e8e8e8"}, "gridWidth": 1.5}},
    "y": {"field": "v", "type": "quantitative", "scale": {"domain": [0, 400], "nice": false},
          "axis": {"values": [0,100,200,300,400], "labelExpr": "replace(format(datum.value, '.2f'), '.', ',')", "grid": true, "gridColor": "#d9d9d9", "gridWidth": 2.5, "labelPadding": 19, "title": "Phi (deg)", "titleX": -99, "titleBaseline": "bottom"}}
  }
},
{
  "width": 768, "height": 343,
  "view": {"stroke": "#d9d9d9", "strokeWidth": 2},
  "title": {"text": " ", "fontSize": 13, "offset": 3},
  "layer": [
    {"data": {"name": "bm"}, "mark": {"type": "line", "color": "#5b9bd5", "strokeWidth": 2.5},
     "encoding": {
       "x": {"field": "d", "type": "quantitative", "scale": {"domain": [17, 32], "nice": false},
             "axis": {"values": [17,18,19,20,21,22,23,24,25,26,27,28,29,30,31,32], "labelExpr": "datum.value % 2 == 1 ? datum.label : ''", "labelFlush": false, "grid": true, "gridColor": {"condition": {"test": "datum.value % 2 == 1", "value": "#cccccc"}, "value": "#e8e8e8"}, "gridWidth": 1.5, "labelPadding": 21, "title": "Day", "titleColor": "#000000", "titleFont": "Open Sans", "titleFontSize": 22, "titlePadding": 8}},
       "y": {"field": "v", "type": "quantitative", "scale": {"domain": [-8, 32], "nice": false, "zero": false},
             "axis": {"values": [-8,-6,-4,-2,0,2,4,6,8,10,12,14,16,18,20,22,24,26,28,30,32], "labelExpr": "datum.value % 4 == 0 ? (datum.value < 0 ? '-' : '') + format(abs(datum.value), 'd') : ''", "grid": true, "gridColor": {"condition": {"test": "datum.value % 4 == 0", "value": "#d0d0d0"}, "value": "#ececec"}, "gridWidth": {"condition": {"test": "datum.value % 4 == 0", "value": 2.2}, "value": 1.5}, "labelPadding": 23, "title": "B(nT) ,", "titleFont": "Open Sans", "titleFontWeight": "normal", "titleFontSize": 25, "titleX": -95, "titleY": 268, "titleAlign": "left", "titleAngle": 270, "titleBaseline": "bottom"}}
     }},
    {"data": {"name": "bz"}, "mark": {"type": "line", "color": "#70ad47", "strokeWidth": 2.5},
     "encoding": {
       "x": {"field": "d", "type": "quantitative"},
       "y": {"field": "v", "type": "quantitative", "scale": {"domain": [-8, 32], "nice": false, "zero": false},
             "axis": {"orient": "left", "labels": false, "grid": false, "title": "Bgse_z", "titleColor": "#70ad47", "titleFont": "Open Sans", "titleFontWeight": "normal", "titleFontSize": 25, "titleX": -95, "titleY": 167, "titleAlign": "left", "titleAngle": 270, "titleBaseline": "bottom"}}
     }},
    {"data": {"name": "vp"}, "mark": {"type": "line", "color": "#000000", "strokeWidth": 2.5},
     "encoding": {
       "x": {"field": "d", "type": "quantitative"},
       "y": {"field": "v", "type": "quantitative", "scale": {"domain": [0, 600], "nice": false},
             "axis": {"orient": "right", "values": [0,120,240,360,480,600], "grid": false, "labelPadding": 24, "title": "Proton Speed (Km/s)", "titleAngle": 270, "titleX": 101, "titleY": 203, "titleBaseline": "bottom"}}
     }}
  ],
  "resolve": {"scale": {"y": "independent"}}
}
]
}
